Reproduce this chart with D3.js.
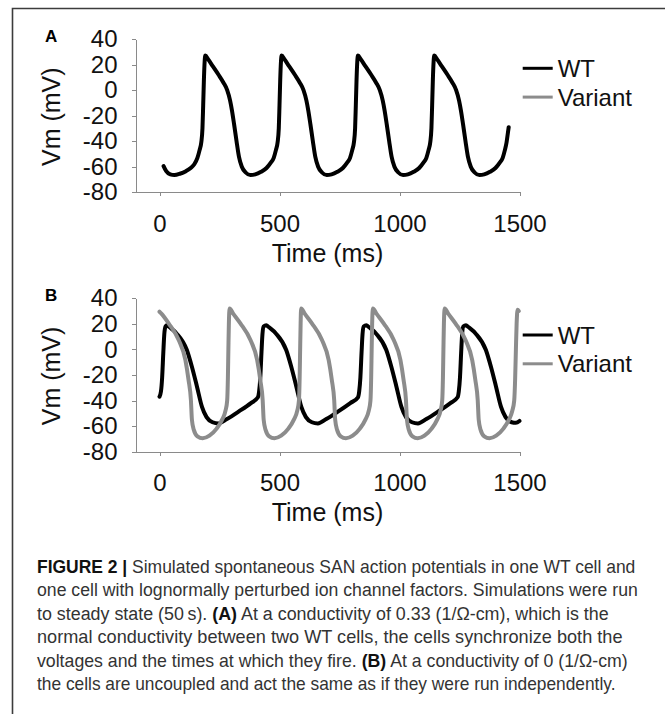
<!DOCTYPE html>
<html>
<head>
<meta charset="utf-8">
<script src="https://cdn.jsdelivr.net/npm/d3@7"></script>
<style>
  body { margin: 0; background: #fff; }
  svg { display: block; font-family: "Liberation Sans", Arial, sans-serif; }
  .axis path, .axis line { stroke: #8a8a8a; stroke-width: 1; shape-rendering: crispEdges; }
  .axis text { font-size: 24px; fill: #111; }
  .caption { font-family: "Liberation Sans Narrow", "Liberation Sans", Arial, sans-serif; font-size: 18px; fill: #333; }
  .caption .b { font-weight: bold; fill: #111; }
</style>
</head>
<body>
<svg id="chart"></svg>
<script>
// Figure size
const W = 665, H = 714;

// Axis ticks
const xTicks = [0, 500, 1000, 1500];
const yTicks = [-80, -60, -40, -20, 0, 20, 40];
const seriesNames = ["WT", "Variant"];
const seriesColors = ["#000000", "#8c8c8c"];

// Panel A : coupled cells, only WT visible (Variant sits under it)
const wtA = [
  [17,-59.5],[28,-63.5],[45,-66],[62,-66.5],[85,-65.5],[110,-63.5],[130,-61],[145,-58],[158,-53],[167,-47],
  [174,-41],[179,-30],[182,-12],[185,8],[188,22],[191,27],
  [203,24],[221,19],[246,12],[266,6],[282,0],[294,-8],[302,-16],[311,-27],[321,-40],[331,-52],[343,-60],[359,-64.5],[379,-66.5],
  [399,-66],[423,-64],[446,-61],[463,-57],[476,-53],[485,-47],[492,-41],[497,-30],[500,-12],[503,8],[506,22],[509,27],
  [521,24],[539,19],[564,12],[584,6],[600,0],[612,-8],[620,-16],[629,-27],[639,-40],[649,-52],[661,-60],[677,-64.5],[697,-66.5],
  [717,-66],[741,-64],[764,-61],[781,-57],[794,-53],[803,-47],[810,-41],[815,-30],[818,-12],[821,8],[824,22],[827,27],
  [839,24],[857,19],[882,12],[902,6],[918,0],[930,-8],[938,-16],[947,-27],[957,-40],[967,-52],[979,-60],[995,-64.5],[1015,-66.5],
  [1035,-66],[1059,-64],[1082,-61],[1099,-57],[1112,-53],[1121,-47],[1128,-41],[1133,-30],[1136,-12],[1139,8],[1142,22],[1145,27],
  [1157,24],[1175,19],[1200,12],[1220,6],[1236,0],[1248,-8],[1256,-16],[1265,-27],[1275,-40],[1285,-52],[1297,-60],[1313,-64.5],[1333,-66.5],
  [1353,-66],[1377,-64],[1400,-61],[1417,-57],[1430,-53],[1439,-47],[1446,-41],[1452,-33],[1455,-29]
];

// Panel B : uncoupled cells
const wtB = [
  [0,-37],[6,-33],[11,-22],[16,-2],[20,12],[25,18],[31,19],
  [41,17.5],[71,12.5],[114,-0.5],[135,-13.6],[156,-29],[177,-45],[196,-53],[221,-57],[246,-58],
  [281,-54.5],[331,-48.5],[381,-42],[410,-37.5],[415,-33],[420,-22],[425,-2],[429,12],[434,18],[445,19],
  [455,17.5],[485,12.5],[528,-0.5],[549,-13.6],[570,-29],[591,-45],[610,-53],[635,-57],[660,-58],
  [695,-54.5],[745,-48.5],[795,-42],[827,-37.5],[832,-33],[837,-22],[842,-2],[846,12],[851,18],[862,19],
  [872,17.5],[902,12.5],[945,-0.5],[966,-13.6],[987,-29],[1008,-45],[1027,-53],[1052,-57],[1077,-58],
  [1112,-54.5],[1162,-48.5],[1212,-42],[1242,-37.5],[1247,-33],[1252,-22],[1257,-2],[1261,12],[1266,18],[1277,19],
  [1287,17.5],[1317,12.5],[1360,-0.5],[1381,-13.6],[1402,-29],[1423,-45],[1442,-53],[1467,-57],[1485,-57.5],[1500,-56]
];

const variantB = [
  [0,29.5],[8,28],[38,20.4],[80,7.3],[108,-8.4],[121,-24],[131,-40],[135,-55],[143,-63],[158,-68],[180,-69.5],
  [208,-67.5],[238,-62],[261,-55],[275,-48],[282,-40],[285,-22],[287,0],[289,20],[292,32],
  [307,28],[337,20.4],[379,7.3],[407,-8.4],[420,-24],[430,-40],[434,-55],[442,-63],[457,-68],[479,-69.5],
  [507,-67.5],[537,-62],[560,-55],[574,-48],[581,-40],[584,-22],[586,0],[588,20],[590,32],
  [605,28],[635,20.4],[677,7.3],[705,-8.4],[718,-24],[728,-40],[732,-55],[740,-63],[755,-68],[777,-69.5],
  [805,-67.5],[835,-62],[858,-55],[872,-48],[879,-40],[882,-22],[884,0],[886,20],[889,32],
  [904,28],[934,20.4],[976,7.3],[1004,-8.4],[1017,-24],[1027,-40],[1031,-55],[1039,-63],[1054,-68],[1076,-69.5],
  [1104,-67.5],[1134,-62],[1157,-55],[1171,-48],[1178,-40],[1181,-22],[1183,0],[1185,20],[1188,32],
  [1203,28],[1233,20.4],[1275,7.3],[1303,-8.4],[1316,-24],[1326,-40],[1330,-55],[1338,-63],[1353,-68],[1375,-69.5],
  [1403,-67.5],[1433,-62],[1456,-55],[1470,-48],[1478,-40],[1482,-22],[1485,0],[1488,20],[1492,31],[1497,30]
];

// Caption, one entry per line, [text, bold?] chunks
const captionLines = [
  [["FIGURE 2 |", true], [" Simulated spontaneous SAN action potentials in one WT cell and", false]],
  [["one cell with lognormally perturbed ion channel factors. Simulations were run", false]],
  [["to steady state (50\u2009s). ", false], ["(A)", true], [" At a conductivity of 0.33 (1/\u03A9-cm), which is the", false]],
  [["normal conductivity between two WT cells, the cells synchronize both the", false]],
  [["voltages and the times at which they fire. ", false], ["(B)", true], [" At a conductivity of 0 (1/\u03A9-cm)", false]],
  [["the cells are uncoupled and act the same as if they were run independently.", false]]
];
const captionRight = [636, 638, 609, 623, 628, 616];

const svg = d3.select("#chart")
  .attr("width", W)
  .attr("height", H);

svg.append("rect").attr("width", W).attr("height", H).attr("fill", "#fff");

// frame (top + left rule)
svg.append("path")
  .attr("d", `M${W},8.5 H12.5 V${H}`)
  .attr("fill", "none")
  .attr("stroke", "#3c3c3c")
  .attr("stroke-width", 1.6);

const x = d3.scaleLinear().domain([-100, 1500]).range([135.5, 519.5]);

const panels = [
  {label: "A", top: 39, series: [wtA]},
  {label: "B", top: 298.3, series: [wtB, variantB]}
];

panels.forEach((p) => drawPanel(p));

function drawPanel (p) {
  const y = d3.scaleLinear().domain([-80, 40]).range([p.top + 153.3, p.top]);
  const g = svg.append("g");

  // Y axis
  g.append("g")
    .attr("class", "axis")
    .attr("transform", `translate(${x(-100)}, 0)`)
    .call(d3.axisLeft(y).tickValues(yTicks).tickFormat((d) => String(d))
      .tickSize(4).tickSizeOuter(0).tickPadding(14))
    .call((a) => a.selectAll("text").attr("font-family", null).attr("font-size", null));

  // X axis
  g.append("g")
    .attr("class", "axis")
    .attr("transform", `translate(0, ${y(-80)})`)
    .call(d3.axisBottom(x).tickValues(xTicks).tickFormat((d) => String(d))
      .tickSize(4).tickSizeOuter(0).tickPadding(18.5))
    .call((a) => a.selectAll("text").attr("font-family", null).attr("font-size", null));

  // curves
  const line = d3.line()
    .x((d) => x(d[0]))
    .y((d) => y(d[1]))
    .curve(d3.curveMonotoneX);

  p.series.forEach((s, i) => {
    g.append("path")
      .datum(s)
      .attr("fill", "none")
      .attr("stroke", seriesColors[i])
      .attr("stroke-width", 4)
      .attr("stroke-linejoin", "round")
      .attr("stroke-linecap", "round")
      .attr("d", line);
  });

  // panel letter
  g.append("text")
    .attr("x", 45)
    .attr("y", p.top + 2.7)
    .attr("font-size", "17px")
    .attr("font-weight", "bold")
    .text(p.label);

  // axis titles
  g.append("text")
    .attr("transform", `translate(60, ${p.top + 77.7}) rotate(-90)`)
    .attr("text-anchor", "middle")
    .attr("font-size", "25px")
    .attr("fill", "#111")
    .text("Vm (mV)");

  g.append("text")
    .attr("x", (x(-100) + x(1500)) / 2)
    .attr("y", p.top + 222.7)
    .attr("text-anchor", "middle")
    .attr("font-size", "25px")
    .attr("fill", "#111")
    .text("Time (ms)");

  // legend
  const legend = g.append("g")
    .attr("transform", `translate(522.7, ${p.top + (p.label === "A" ? 29.3 : 36.7)})`);

  legend.selectAll("line")
    .data(seriesNames)
    .enter()
    .append("line")
    .attr("x1", 0)
    .attr("x2", 30)
    .attr("y1", (d, i) => i * 28.8)
    .attr("y2", (d, i) => i * 28.8)
    .attr("stroke", (d, i) => seriesColors[i])
    .attr("stroke-width", 3);

  legend.selectAll("text")
    .data(seriesNames)
    .enter()
    .append("text")
    .attr("x", 35)
    .attr("y", (d, i) => i * 28.8 + 8.5)
    .attr("font-size", "24px")
    .attr("fill", "#111")
    .text((d) => d);
}

// caption: each line squeezed horizontally to the width it has in the figure
const capLeft = 37;
const cap = svg.append("g").attr("class", "caption");
captionLines.forEach((ln, i) => {
  const row = cap.append("g");
  const t = row.append("text").attr("x", 0).attr("y", 0);
  ln.forEach((c) => {
    t.append("tspan").attr("class", c[1] ? "b" : null).text(c[0]);
  });
  const natural = t.node().getComputedTextLength();
  const sx = (captionRight[i] - capLeft) / natural;
  row.attr("transform", `translate(${capLeft}, ${573 + i * 23.4}) scale(${sx}, 1)`);
});
</script>
</body>
</html>
